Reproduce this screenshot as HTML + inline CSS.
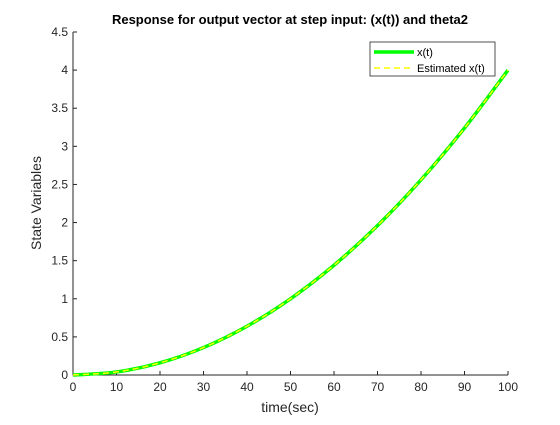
<!DOCTYPE html>
<html><head><meta charset="utf-8"><style>
body{margin:0;background:#fff;font-family:"Liberation Sans",sans-serif}
svg text{font-family:"Liberation Sans",sans-serif}
</style></head><body>
<svg width="560" height="420" xmlns="http://www.w3.org/2000/svg">
<rect width="560" height="420" fill="#fff"/>
<rect x="73" y="32" width="435" height="343" fill="#fff" stroke="none"/>
<g id="axes"></g>
<g id="series"></g>
<text x="290" y="24" text-anchor="middle" font-size="13" font-weight="bold" fill="#000">Response for output vector at step input: (x(t)) and theta2</text>
<text x="290" y="412" text-anchor="middle" font-size="14" fill="#262626">time(sec)</text>
<text transform="translate(41,203) rotate(-90)" text-anchor="middle" font-size="14" fill="#262626">State Variables</text>
<g>
<rect x="370" y="42" width="125" height="34" fill="#fff" stroke="#262626" stroke-width="0.8"/>
<line x1="374" y1="52" x2="414" y2="52" stroke="#00ff00" stroke-width="3.5"/>
<text x="417" y="56" font-size="11" fill="#000">x(t)</text>
<line x1="374" y1="68" x2="414" y2="68" stroke="#ffff00" stroke-width="1.5" stroke-dasharray="6,4"/>
<text x="417" y="72" font-size="11" fill="#000">Estimated x(t)</text>
</g>
</svg>
<script>
const xTicks=[0,10,20,30,40,50,60,70,80,90,100];
const yTicks=[0,0.5,1,1.5,2,2.5,3,3.5,4,4.5];
const tValues=[0,10,20,30,40,50,60,70,80,90,100];
const xValues=[0,0.04,0.16,0.36,0.64,1.0,1.44,1.96,2.56,3.24,4.0];
const estValues=[0,0.04,0.16,0.36,0.64,1.0,1.44,1.96,2.56,3.24,4.0];
const L=73,R=508,T=32,B=375;
const sx=v=>L+(v-0)/(100-0)*(R-L);
const sy=v=>B-(v-0)/(4.5-0)*(B-T);
const NS="http://www.w3.org/2000/svg";
const ax=document.getElementById('axes');
function mk(tag,attrs,parent){const e=document.createElementNS(NS,tag);for(const k in attrs)e.setAttribute(k,attrs[k]);parent.appendChild(e);return e;}
const frame=mk('path',{d:`M${L},${T}V${B}H${R}`,fill:'none',stroke:'#262626','stroke-width':1},ax);


xTicks.forEach(t=>{
 const l=mk('line',{x1:sx(t),x2:sx(t),y1:B,y2:B-4,stroke:'#262626'},ax);
 
 
 const tx=mk('text',{x:sx(t),y:B+16,'text-anchor':'middle','font-size':12,fill:'#262626'},ax);
 tx.textContent=t;
 
 
});
yTicks.forEach(t=>{
 const l=mk('line',{x1:L,x2:L+4,y1:sy(t),y2:sy(t),stroke:'#262626'},ax);
 
 
 const tx=mk('text',{x:L-5,y:sy(t)+4,'text-anchor':'end','font-size':12,fill:'#262626'},ax);
 tx.textContent=t;
 
 
});
const sg=document.getElementById('series');
function pathFor(vals){
 // smooth via dense quadratic-fit interpolation between samples (Catmull-Rom)
 const pts=tValues.map((t,i)=>[sx(t),sy(vals[i])]);
 let d=`M${pts[0][0]},${pts[0][1]}`;
 for(let i=0;i<pts.length-1;i++){
  const p0=pts[Math.max(i-1,0)],p1=pts[i],p2=pts[i+1],p3=pts[Math.min(i+2,pts.length-1)];
  const c1=[p1[0]+(p2[0]-p0[0])/6,p1[1]+(p2[1]-p0[1])/6];
  const c2=[p2[0]-(p3[0]-p1[0])/6,p2[1]-(p3[1]-p1[1])/6];
  d+=`C${c1[0]},${c1[1]} ${c2[0]},${c2[1]} ${p2[0]},${p2[1]}`;
 }
 return d;
}
const g1=mk('path',{d:pathFor(xValues),fill:'none',stroke:'#00ff00','stroke-width':3.5},sg);


const g2=mk('path',{d:pathFor(estValues),fill:'none',stroke:'#ffff00','stroke-width':1.5,'stroke-dasharray':'6,4'},sg);


</script>
</body></html>
